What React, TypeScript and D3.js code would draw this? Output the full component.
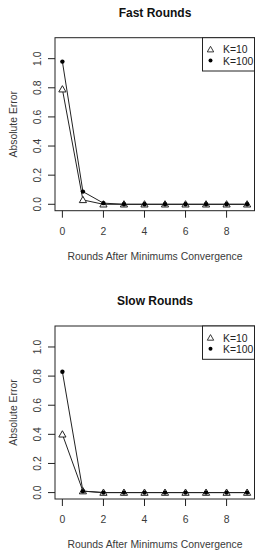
import React from 'react';
import * as d3 from 'd3';

const rounds = [0, 1, 2, 3, 4, 5, 6, 7, 8, 9];
const xTicks = [0, 2, 4, 6, 8];
const yTicks = [0, 0.2, 0.4, 0.6, 0.8, 1.0];

const fastK10 = [0.79, 0.03, 0.0, 0.0, 0.0, 0.0, 0.0, 0.0, 0.0, 0.0];
const fastK100 = [0.98, 0.087, 0.008, 0.0, 0.0, 0.0, 0.0, 0.0, 0.0, 0.0];
const slowK10 = [0.4, 0.01, 0.0, 0.0, 0.0, 0.0, 0.0, 0.0, 0.0, 0.0];
const slowK100 = [0.83, 0.01, 0.0, 0.0, 0.0, 0.0, 0.0, 0.0, 0.0, 0.0];

const legendLabels = ['K=10', 'K=100'];

const FONT = '"Liberation Sans", Arial, Helvetica, sans-serif';
const INK = '#222';
const LABEL = '#3a3a3a';

interface PanelProps {
  title: string;
  k10: number[];
  k100: number[];
  top: number;
}

const Panel: React.FC<PanelProps> = ({ title, k10, k100, top }) => {
  // plot region, R-style 4% padding around the data limits
  const left = 55;
  const right = 254.5;
  const boxTop = top + 37.7;
  const boxBottom = top + 210.7;

  const x = d3.scaleLinear().domain([-0.36, 9.36]).range([left, right]);
  const y = d3.scaleLinear().domain([-0.044, 1.144]).range([boxBottom, boxTop]);

  const line = d3.line<number>()
    .x((_, i) => x(rounds[i]))
    .y(d => y(d));

  const tri = (cx: number, cy: number, s = 3.6) =>
    `M${cx},${cy - s}L${cx + s},${cy + s * 0.75}L${cx - s},${cy + s * 0.75}Z`;

  const legX = 202.5;
  const legY = boxTop;

  return (
    <g>
      <text x={155} y={top + 17} textAnchor="middle" fontFamily={FONT}
        fontSize={12} fontWeight="bold" fill="#111">{title}</text>

      <rect x={left} y={boxTop} width={right - left} height={boxBottom - boxTop}
        fill="none" stroke={INK} strokeWidth={1} />

      {/* x axis */}
      {xTicks.map(t => (
        <g key={'x' + t}>
          <line x1={x(t)} x2={x(t)} y1={boxBottom} y2={boxBottom + 7} stroke={INK} />
          <text x={x(t)} y={boxBottom + 23.8} textAnchor="middle" fontFamily={FONT}
            fontSize={10.4} fill={LABEL}>{t}</text>
        </g>
      ))}
      <text x={155} y={top + 259.5} textAnchor="middle" fontFamily={FONT}
        fontSize={10.4} fill={LABEL}>Rounds After Minimums Convergence</text>

      {/* y axis */}
      {yTicks.map(t => (
        <g key={'y' + t}>
          <line x1={left} x2={left - 7} y1={y(t)} y2={y(t)} stroke={INK} />
          <text transform={`translate(${left - 14.3},${y(t)}) rotate(-90)`}
            textAnchor="middle" fontFamily={FONT} fontSize={10.4} fill={LABEL}>
            {t.toFixed(1)}
          </text>
        </g>
      ))}
      <text transform={`translate(${17},${(boxTop + boxBottom) / 2}) rotate(-90)`}
        textAnchor="middle" fontFamily={FONT} fontSize={10.4} fill={LABEL}>
        Absolute Error
      </text>

      {/* series */}
      <path d={line(k10) ?? ''} fill="none" stroke={INK} strokeWidth={1} />
      <path d={line(k100) ?? ''} fill="none" stroke={INK} strokeWidth={1} />
      {k10.map((v, i) => (
        <path key={'t' + i} d={tri(x(rounds[i]), y(v))} fill="white" stroke={INK} strokeWidth={1} />
      ))}
      {k100.map((v, i) => (
        <circle key={'c' + i} cx={x(rounds[i])} cy={y(v)} r={2.2} fill="#000" />
      ))}

      {/* legend */}
      <rect x={legX} y={legY} width={right - legX} height={33.3} fill="white" stroke={INK} strokeWidth={1} />
      <path d={tri(legX + 8, legY + 11.8, 3.2)} fill="none" stroke={INK} strokeWidth={0.9} />
      <circle cx={legX + 8} cy={legY + 22.8} r={2} fill="#000" />
      <text x={legX + 20.5} y={legY + 15.6} fontFamily={FONT} fontSize={10.4} fill="#222">{legendLabels[0]}</text>
      <text x={legX + 20.5} y={legY + 26.8} fontFamily={FONT} fontSize={10.4} fill="#222">{legendLabels[1]}</text>
    </g>
  );
};

export default function App() {
  return (
    <svg width={257} height={556} viewBox="0 0 257 556"
      style={{ position: 'absolute', left: 0, top: 0, background: 'white' }}>
      <rect width={257} height={556} fill="white" />
      <Panel title="Fast Rounds" k10={fastK10} k100={fastK100} top={0} />
      <Panel title="Slow Rounds" k10={slowK10} k100={slowK100} top={288.3} />
    </svg>
  );
}
